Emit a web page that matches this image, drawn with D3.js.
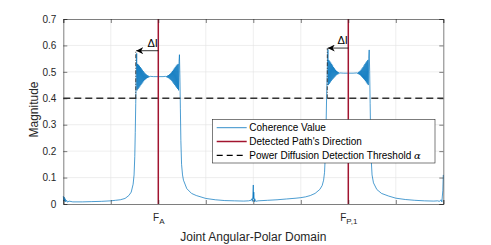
<!DOCTYPE html>
<html>
<head>
<meta charset="utf-8">
<script src="https://cdn.jsdelivr.net/npm/d3@7"></script>
<style>
  body { margin: 0; background: #fff; }
  svg { font-family: "Liberation Sans", Arial, sans-serif; }
  .grid line { stroke: #e3e3e3; stroke-width: 0.6; }
  .axis path, .axis line { stroke: #262626; stroke-width: 0.6; }
  .axis text { fill: #262626; font-size: 10px; }
</style>
</head>
<body>
<svg id="chart" width="491" height="245"></svg>
<script>
// coherence curve: [position, magnitude]
var coherence = [
  [0.00,0.030],[0.01,0.012],[0.02,0.026],[0.03,0.010],[0.04,0.020],[0.05,0.008],[0.07,0.014],[0.09,0.007],
  [0.12,0.011],[0.20,0.008],[0.40,0.008],[0.60,0.009],[0.80,0.010],[1.00,0.012],[1.10,0.014],[1.20,0.016],
  [1.30,0.021],[1.38,0.032],[1.43,0.045],[1.47,0.075],[1.49,0.110],[1.505,0.180],[1.515,0.270],[1.525,0.380],
  [1.535,0.480],[1.545,0.570],
  [1.553,0.430],[1.563,0.530],[1.573,0.435],[1.583,0.527],[1.593,0.440],[1.603,0.523],[1.613,0.445],[1.623,0.518],
  [1.633,0.450],[1.643,0.513],[1.653,0.455],[1.663,0.508],[1.673,0.460],[1.683,0.503],[1.693,0.465],[1.703,0.498],
  [1.713,0.469],[1.723,0.494],[1.733,0.472],[1.743,0.491],[1.753,0.475],[1.763,0.488],[1.773,0.477],[1.783,0.486],
  [1.793,0.479],[1.803,0.484],[1.813,0.481],[1.830,0.483],[1.900,0.482],[2.000,0.482],[2.100,0.482],
  [2.150,0.483],[2.167,0.481],[2.177,0.484],[2.187,0.479],[2.197,0.486],[2.207,0.477],[2.217,0.488],[2.227,0.475],
  [2.237,0.491],[2.247,0.472],[2.257,0.494],[2.267,0.469],[2.277,0.498],[2.287,0.465],[2.297,0.503],[2.307,0.460],
  [2.317,0.508],[2.327,0.455],[2.337,0.513],[2.347,0.450],[2.357,0.518],[2.367,0.445],[2.377,0.523],[2.387,0.440],
  [2.397,0.527],[2.407,0.435],[2.417,0.530],[2.427,0.430],[2.437,0.540],[2.445,0.565],
  [2.455,0.480],[2.465,0.360],[2.475,0.240],[2.490,0.150],[2.510,0.110],[2.530,0.090],[2.600,0.058],[2.700,0.040],
  [2.800,0.032],[3.000,0.021],[3.200,0.016],[3.400,0.013],[3.600,0.012],[3.800,0.011],[3.900,0.012],[3.950,0.014],
  [3.970,0.020],[3.980,0.010],[3.990,0.030],[4.000,0.072],[4.005,0.020],[4.010,0.045],[4.020,0.008],[4.030,0.020],
  [4.050,0.010],[4.100,0.012],[4.300,0.014],[4.500,0.016],[4.700,0.019],[4.900,0.022],[5.000,0.024],[5.100,0.027],
  [5.200,0.032],[5.300,0.040],[5.400,0.055],[5.450,0.070],[5.480,0.090],[5.500,0.120],[5.515,0.180],[5.530,0.280],
  [5.545,0.420],[5.560,0.520],[5.572,0.585],
  [5.580,0.450],[5.590,0.545],[5.600,0.455],[5.610,0.540],[5.620,0.460],[5.630,0.535],[5.640,0.465],[5.650,0.530],
  [5.660,0.470],[5.670,0.524],[5.680,0.474],[5.690,0.518],[5.700,0.478],[5.710,0.513],[5.720,0.482],[5.730,0.508],
  [5.740,0.486],[5.750,0.504],[5.760,0.489],[5.770,0.501],[5.780,0.491],[5.790,0.499],[5.800,0.493],[5.820,0.496],
  [5.900,0.495],[6.000,0.495],[6.100,0.495],
  [6.180,0.496],[6.200,0.493],[6.210,0.499],[6.220,0.491],[6.230,0.501],[6.240,0.489],[6.250,0.504],[6.260,0.486],
  [6.270,0.508],[6.280,0.482],[6.290,0.513],[6.300,0.478],[6.310,0.518],[6.320,0.474],[6.330,0.524],[6.340,0.470],
  [6.350,0.530],[6.360,0.465],[6.370,0.535],[6.380,0.460],[6.390,0.540],[6.400,0.455],[6.410,0.545],[6.420,0.450],
  [6.430,0.550],[6.440,0.583],
  [6.450,0.500],[6.460,0.380],[6.470,0.260],[6.485,0.160],[6.500,0.110],[6.530,0.080],[6.600,0.055],[6.700,0.040],
  [6.850,0.030],[7.000,0.022],[7.200,0.017],[7.400,0.014],[7.600,0.012],[7.800,0.011],[7.880,0.012],[7.920,0.010],
  [7.950,0.016],[7.970,0.008],[7.980,0.030],[7.990,0.050],[8.000,0.110]
];
var pathDirections = [2, 6];          // detected path positions
var pathTickLabels = [["F", "A"], ["F", "P,1"]];
var threshold = 0.4;
var spreadEdges = [1.525, 5.558];     // left edge of each spread
var spreadArrowY = [0.58, 0.59];
var yTicks = [0, 0.1, 0.2, 0.3, 0.4, 0.5, 0.6, 0.7];
var xTicks = [0, 1, 2, 3, 4, 5, 6, 7, 8];
var legendLabels = ["Coherence Value", "Detected Path's Direction", "Power Diffusion Detection Threshold "];

var BLUE = "#0072BD", RED = "#A2142F", DARK = "#262626";

var svg = d3.select("#chart");
var plotL = 63.3, plotR = 443.3, plotT = 19, plotB = 204;

var x = d3.scaleLinear().domain([0, 8]).range([plotL, plotR]);
var y = d3.scaleLinear().domain([0, 0.7]).range([plotB, plotT]);

// 网格
var grid = svg.append("g").attr("class", "grid");
grid.selectAll(".gx").data(xTicks.slice(1, -1)).enter().append("line")
  .attr("x1", d => x(d)).attr("x2", d => x(d)).attr("y1", plotT).attr("y2", plotB);
grid.selectAll(".gy").data(yTicks.slice(1, -1)).enter().append("line")
  .attr("y1", d => y(d)).attr("y2", d => y(d)).attr("x1", plotL).attr("x2", plotR);

// 相干曲线
var line = d3.line().x(d => x(d[0])).y(d => y(d[1]));
svg.append("path").datum(coherence)
  .attr("d", line).attr("fill", "none").attr("stroke", BLUE).attr("stroke-width", 0.7);

// 阈值
svg.append("line")
  .attr("x1", plotL).attr("x2", plotR).attr("y1", y(threshold)).attr("y2", y(threshold))
  .attr("stroke", "#333").attr("stroke-width", 1.5).attr("stroke-dasharray", "7,4");

// 检测方向
svg.selectAll(".dir").data(pathDirections).enter().append("line")
  .attr("x1", d => x(d)).attr("x2", d => x(d)).attr("y1", plotT).attr("y2", plotB)
  .attr("stroke", RED).attr("stroke-width", 1.5);

// ΔI 标注
svg.append("defs").append("marker")
  .attr("id", "arrow").attr("viewBox", "0 0 10 10").attr("refX", 10).attr("refY", 5)
  .attr("markerUnits", "userSpaceOnUse").attr("markerWidth", 7).attr("markerHeight", 7)
  .attr("orient", "auto")
  .append("path").attr("d", "M0,0 L10,5 L0,10 L3,5 Z").attr("fill", "#000");

pathDirections.forEach(function (p, i) {
  svg.append("line")
    .attr("x1", x(spreadEdges[i])).attr("x2", x(spreadEdges[i]))
    .attr("y1", y(threshold)).attr("y2", y(spreadArrowY[i]))
    .attr("stroke", "#222").attr("stroke-width", 0.8).attr("stroke-dasharray", "4,1.5,1,1.5");
  svg.append("line")
    .attr("x1", x(p)).attr("x2", x(spreadEdges[i]) + 0.5)
    .attr("y1", y(spreadArrowY[i])).attr("y2", y(spreadArrowY[i]))
    .attr("stroke", "#000").attr("stroke-width", 0.8).attr("marker-end", "url(#arrow)");
  svg.append("text")
    .attr("x", x(p) - 0.5).attr("y", y(spreadArrowY[i]) - 4)
    .attr("text-anchor", "end").attr("font-size", 11).attr("fill", "#000")
    .text("\u0394I");
});

// 坐标轴
var yAxis = d3.axisLeft(y).tickValues(yTicks).tickSize(-4).tickPadding(7)
  .tickFormat(d => d === 0 ? "0" : d3.format(".1f")(d));
svg.append("g").attr("class", "axis").attr("transform", "translate(" + plotL + ",0)").call(yAxis);
svg.append("g").attr("class", "axis").attr("transform", "translate(" + plotR + ",0)")
  .call(d3.axisRight(y).tickValues(yTicks).tickSize(-4).tickFormat(""));
var xAxis = d3.axisBottom(x).tickValues(xTicks).tickSize(-4).tickPadding(13).tickFormat("");
var gx = svg.append("g").attr("class", "axis").attr("transform", "translate(0," + plotB + ")").call(xAxis);
svg.append("g").attr("class", "axis").attr("transform", "translate(0," + plotT + ")")
  .call(d3.axisTop(x).tickValues(xTicks).tickSize(-4).tickFormat(""));
svg.selectAll(".axis .domain").attr("stroke-width", 0.8);

gx.selectAll(".tick").filter(d => pathDirections.indexOf(d) >= 0)
  .select("text").each(function (d) {
    var lab = pathTickLabels[pathDirections.indexOf(d)];
    var t = d3.select(this).attr("font-size", 11).attr("dy", null).attr("y", 16.5);
    t.append("tspan").text(lab[0]);
    t.append("tspan").attr("font-size", 8).attr("dy", 3.5).text(lab[1]);
  });

svg.append("text")
  .attr("x", (plotL + plotR) / 2).attr("y", 240.5).attr("text-anchor", "middle")
  .attr("font-size", 12).attr("fill", DARK).text("Joint Angular-Polar Domain");
svg.append("text")
  .attr("transform", "translate(37.5," + ((plotT + plotB) / 2 - 2) + ") rotate(-90)")
  .attr("text-anchor", "middle").attr("font-size", 12).attr("fill", DARK).text("Magnitude");

// 图例
var lg = svg.append("g").attr("transform", "translate(212.5,119.5)");
lg.append("rect").attr("width", 222.5).attr("height", 43.5)
  .attr("fill", "#fff").attr("stroke", DARK).attr("stroke-width", 0.6);
var legendStyles = [
  { color: BLUE, width: 0.8, dash: null },
  { color: RED, width: 1.5, dash: null },
  { color: "#000", width: 1.2, dash: "6,4" }
];
legendLabels.forEach(function (label, i) {
  var ly = 8.2 + i * 13.8;
  var s = legendStyles[i];
  lg.append("line").attr("x1", 4.2).attr("x2", 34.2).attr("y1", ly).attr("y2", ly)
    .attr("stroke", s.color).attr("stroke-width", s.width).attr("stroke-dasharray", s.dash);
  var t = lg.append("text").attr("x", 36.8).attr("y", ly + 3.6)
    .attr("font-size", 10).attr("fill", "#000").text(label);
  if (i === 2) {
    t.append("tspan").attr("font-family", "DejaVu Serif").attr("font-style", "italic").text("\u03B1");
  }
});
</script>
</body>
</html>
